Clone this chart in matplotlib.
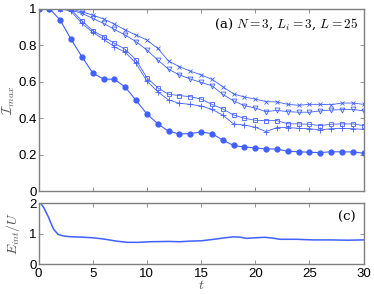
import numpy as np
import matplotlib
matplotlib.use("Agg")
import matplotlib.pyplot as plt

plt.rcParams['font.family'] = ['Liberation Sans', 'DejaVu Sans']
plt.rcParams['mathtext.fontset'] = 'cm'

# time axis for the top panel
t = np.arange(0, 31)

# I_max for the five curves
i_cross = [1, 1, 1, 0.997, 0.982, 0.964, 0.943, 0.915, 0.883, 0.855, 0.828,
           0.782, 0.713, 0.682, 0.658, 0.637, 0.613, 0.573, 0.533, 0.516, 0.505,
           0.491, 0.489, 0.476, 0.471, 0.476, 0.476, 0.474, 0.483, 0.483, 0.476]
i_tri = [1, 1, 1, 0.99, 0.974, 0.946, 0.919, 0.886, 0.855, 0.819, 0.773,
         0.719, 0.668, 0.637, 0.615, 0.596, 0.578, 0.531, 0.495, 0.469, 0.456,
         0.436, 0.443, 0.436, 0.433, 0.433, 0.44, 0.445, 0.447, 0.449, 0.44]
i_square = [1, 1, 1, 0.995, 0.933, 0.879, 0.846, 0.81, 0.777, 0.719, 0.622,
            0.567, 0.531, 0.524, 0.518, 0.505, 0.476, 0.451, 0.418, 0.40, 0.389,
            0.387, 0.387, 0.37, 0.369, 0.367, 0.36, 0.367, 0.369, 0.369, 0.36]
i_plus = [1, 1, 1, 0.985, 0.919, 0.87, 0.832, 0.791, 0.761, 0.70, 0.604,
          0.545, 0.50, 0.482, 0.476, 0.467, 0.449, 0.418, 0.369, 0.363, 0.351,
          0.327, 0.349, 0.349, 0.345, 0.343, 0.336, 0.343, 0.345, 0.343, 0.339]
i_dot = [1, 1, 0.937, 0.832, 0.737, 0.648, 0.614, 0.613, 0.571, 0.498, 0.424,
         0.37, 0.329, 0.314, 0.316, 0.325, 0.316, 0.281, 0.251, 0.243, 0.238,
         0.232, 0.232, 0.219, 0.217, 0.214, 0.212, 0.217, 0.216, 0.216, 0.209]

# interaction energy (bottom panel)
t_e = [0, 0.2, 0.5, 0.9, 1.2, 1.4, 1.8, 2.3, 2.9, 4, 5, 6, 7.2, 8.2, 9.2, 10.3,
       12, 13, 14, 15, 16.2, 17, 18, 18.6, 19.2, 20, 20.9, 21.6, 22.3, 23.8,
       25.3, 27, 28.5, 30]
e_int = [2, 2.0, 1.85, 1.56, 1.3, 1.15, 0.98, 0.93, 0.905, 0.89, 0.87, 0.83,
         0.76, 0.72, 0.72, 0.74, 0.75, 0.74, 0.76, 0.77, 0.82, 0.86, 0.9, 0.89,
         0.85, 0.87, 0.885, 0.86, 0.82, 0.82, 0.8, 0.8, 0.79, 0.8]

blue = '#4060ff'
gray = '#7f7f7f'
label_col = '#505050'

fig = plt.figure(figsize=(3.74, 2.94), dpi=100)
ax1 = fig.add_axes([0.103, 0.349, 0.869, 0.622])
ax2 = fig.add_axes([0.103, 0.101, 0.869, 0.2075])


def style(ax):
    for s in ax.spines.values():
        s.set_color(gray)
        s.set_linewidth(1.0)
    ax.tick_params(direction='in', top=True, right=True, length=3,
                   width=0.6, color=gray, labelsize=9.5, pad=1.5)


ms = dict(markersize=3.5, markeredgewidth=0.6)
ax1.plot(t, i_cross, '-x', color=blue, lw=0.6, **ms)
ax1.plot(t, i_tri, '-v', color=blue, lw=0.6, mfc='none', **ms)
ax1.plot(t, i_square, '-s', color=blue, lw=0.6, mfc='none', **ms)
ax1.plot(t, i_plus, '-+', color=blue, lw=0.6, markersize=4.5, markeredgewidth=0.6)
ax1.plot(t, i_dot, '-o', color=blue, lw=0.8, markersize=3.5, mfc=blue, mec=blue)

ax1.set_xlim(0, 30)
ax1.set_ylim(0, 1)
ax1.set_xticks([0, 5, 10, 15, 20, 25, 30])
ax1.set_xticklabels([])
ax1.set_yticks([0, 0.2, 0.4, 0.6, 0.8, 1])
ax1.set_yticklabels(['0', '0.2', '0.4', '0.6', '0.8', '1'])
ax1.set_ylabel(r'$\mathcal{I}_{max}$', fontsize=10, labelpad=1, color=label_col)
ax1.text(0.985, 0.955, r'(a) $N=3$, $L_i=3$, $L=25$', transform=ax1.transAxes,
         ha='right', va='top', fontsize=9.5, family='DejaVu Serif',
         math_fontfamily='cm')
style(ax1)

ax2.plot(t_e, e_int, '-', color=blue, lw=1.1)
ax2.set_xlim(0, 30)
ax2.set_ylim(0, 2)
ax2.set_xticks([0, 5, 10, 15, 20, 25, 30])
ax2.set_yticks([0, 1, 2])
ax2.set_ylabel(r'$E_{int}/U$', fontsize=10, labelpad=5, color=label_col)
ax2.set_xlabel(r'$t$', fontsize=10, labelpad=-1, color=label_col)
ax2.text(0.975, 0.88, '(c)', transform=ax2.transAxes, ha='right', va='top',
         fontsize=9.5, family='DejaVu Serif')
style(ax2)
ax2.tick_params(axis='x', pad=2.5)

fig.savefig('out.png', dpi=100)
